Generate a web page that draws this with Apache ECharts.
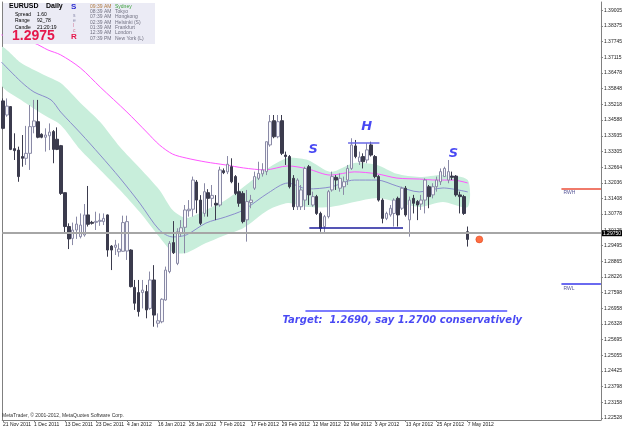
<!DOCTYPE html>
<html><head><meta charset="utf-8">
<script src="https://cdn.jsdelivr.net/npm/echarts@6/dist/echarts.min.js"></script>
<style>html,body{margin:0;padding:0;background:#fff}#c{width:625px;height:429px}</style>
</head><body><div id="c"></div>
<script>
// ---- data ----
const dateLabels = ['21 Nov 2011','1 Dec 2011','13 Dec 2011','23 Dec 2011','4 Jan 2012','16 Jan 2012','26 Jan 2012','7 Feb 2012','17 Feb 2012','29 Feb 2012','12 Mar 2012','22 Mar 2012','3 Apr 2012','13 Apr 2012','25 Apr 2012','7 May 2012'];
const dateLabelIndex = [0,8,16,24,32,40,48,56,64,72,80,88,96,104,112,120];
const priceTicks = [1.39005,1.38375,1.37745,1.37115,1.36478,1.35848,1.35218,1.34588,1.33935,1.33305,1.32664,1.32036,1.31408,1.30778,1.30125,1.29495,1.28865,1.28226,1.27598,1.26958,1.26328,1.25695,1.25055,1.24425,1.23798,1.23158,1.22528];

const open  = [1.3535,1.3478,1.3512,1.3342,1.3336,1.3310,1.3303,1.3323,1.3431,1.3451,1.3400,1.3388,1.3394,1.3411,1.3380,1.3354,1.3164,1.3027,1.2979,1.3013,1.2986,1.2993,1.3074,1.3044,1.3044,1.3048,1.3047,1.3074,1.2948,1.2943,1.2925,1.2927,1.2928,1.2932,1.2781,1.2760,1.2760,1.2764,1.2696,1.2811,1.2636,1.2642,1.2730,1.2845,1.2962,1.2878,1.3002,1.3024,1.3091,1.3097,1.3207,1.3134,1.3080,1.3164,1.3141,1.3121,1.3114,1.3253,1.3248,1.3269,1.3229,1.3168,1.3161,1.3054,1.3124,1.3182,1.3222,1.3240,1.3249,1.3357,1.3455,1.3390,1.3455,1.3316,1.3310,1.3222,1.3107,1.3107,1.3134,1.3269,1.3114,1.3148,1.3080,1.3027,1.3067,1.3175,1.3226,1.3182,1.3188,1.3215,1.3262,1.3353,1.3289,1.3310,1.3296,1.3357,1.3310,1.3229,1.3134,1.3060,1.3074,1.3080,1.3141,1.3101,1.3182,1.3054,1.3141,1.3128,1.3118,1.3134,1.3188,1.3155,1.3188,1.3208,1.3229,1.3215,1.3231,1.3231,1.3155,1.3148,1.3006];
const high  = [1.3545,1.3545,1.3514,1.3404,1.3350,1.3397,1.3434,1.3518,1.3539,1.3539,1.3404,1.3424,1.3444,1.3417,1.3428,1.3357,1.3164,1.3040,1.3043,1.3067,1.3080,1.3118,1.3191,1.3050,1.3087,1.3080,1.3080,1.3076,1.2952,1.2973,1.2959,1.3071,1.3071,1.2935,1.2811,1.2811,1.2811,1.2791,1.2845,1.2871,1.2676,1.2737,1.2865,1.2968,1.3049,1.3020,1.3053,1.3114,1.3134,1.3229,1.3215,1.3154,1.3202,1.3178,1.3195,1.3154,1.3269,1.3262,1.3312,1.3303,1.3235,1.3204,1.3170,1.3175,1.3155,1.3249,1.3289,1.3283,1.3370,1.3478,1.3478,1.3478,1.3478,1.3330,1.3316,1.3235,1.3222,1.3195,1.3269,1.3276,1.3168,1.3155,1.3087,1.3074,1.3175,1.3249,1.3235,1.3242,1.3229,1.3276,1.3384,1.3377,1.3330,1.3323,1.3364,1.3370,1.3316,1.3235,1.3141,1.3087,1.3114,1.3141,1.3148,1.3188,1.3191,1.3148,1.3155,1.3134,1.3155,1.3222,1.3195,1.3202,1.3229,1.3262,1.3269,1.3296,1.3249,1.3235,1.3168,1.3155,1.3027];
const low   = [1.3420,1.3471,1.3336,1.3296,1.3208,1.3269,1.3276,1.3256,1.3404,1.3384,1.3384,1.3330,1.3336,1.3283,1.3336,1.3155,1.3002,1.2936,1.2952,1.2977,1.2979,1.2986,1.3027,1.3035,1.3013,1.3030,1.3033,1.2905,1.2851,1.2912,1.2905,1.2925,1.2892,1.2781,1.2690,1.2663,1.2696,1.2656,1.2690,1.2622,1.2619,1.2636,1.2727,1.2838,1.2916,1.2871,1.2986,1.2919,1.3067,1.3067,1.3081,1.3033,1.3067,1.3067,1.3107,1.3053,1.3107,1.3239,1.3239,1.3202,1.3154,1.3107,1.3040,1.2966,1.3101,1.3175,1.3215,1.3229,1.3235,1.3350,1.3384,1.3384,1.3316,1.3276,1.3181,1.3094,1.3094,1.3094,1.3094,1.3114,1.3107,1.3074,1.3006,1.2999,1.3060,1.3168,1.3175,1.3168,1.3155,1.3195,1.3256,1.3303,1.3276,1.3262,1.3283,1.3310,1.3222,1.3128,1.3040,1.3053,1.3067,1.3027,1.3027,1.3094,1.3067,1.2986,1.3080,1.3053,1.3094,1.3080,1.3101,1.3141,1.3168,1.3195,1.3229,1.3202,1.3215,1.3148,1.3080,1.3074,1.2946];
const close = [1.3424,1.3514,1.3339,1.3334,1.3229,1.3303,1.3323,1.3431,1.3454,1.3388,1.3388,1.3397,1.3409,1.3339,1.3339,1.3161,1.3027,1.2977,1.3013,1.3037,1.3033,1.3074,1.3036,1.3040,1.3048,1.3052,1.3060,1.2932,1.2932,1.2952,1.2936,1.3043,1.3047,1.2784,1.2717,1.2683,1.2770,1.2690,1.2811,1.2669,1.2646,1.2733,1.2851,1.2959,1.2921,1.3006,1.3022,1.3094,1.3097,1.3215,1.3134,1.3040,1.3168,1.3141,1.3153,1.3114,1.3256,1.3245,1.3279,1.3208,1.3161,1.3121,1.3047,1.3128,1.3134,1.3229,1.3242,1.3256,1.3370,1.3451,1.3390,1.3451,1.3323,1.3310,1.3188,1.3107,1.3215,1.3175,1.3262,1.3155,1.3148,1.3080,1.3020,1.3067,1.3168,1.3229,1.3215,1.3222,1.3208,1.3262,1.3357,1.3310,1.3308,1.3289,1.3337,1.3316,1.3229,1.3134,1.3060,1.3080,1.3101,1.3134,1.3074,1.3182,1.3074,1.3134,1.3121,1.3114,1.3134,1.3215,1.3148,1.3188,1.3215,1.3249,1.3262,1.3249,1.3226,1.3155,1.3148,1.3080,1.2975];

// indicator samples: [bar index, price]
const maSlow = [[-0.4,1.3802],[8,1.3769],[11.6,1.3741],[14.9,1.3721],[20,1.3668],[25.1,1.3591],[32,1.3490],[37.1,1.3409],[40.4,1.3357],[43.8,1.3320],[47.3,1.3304],[52.4,1.3288],[57.5,1.3276],[62.1,1.3264],[67.7,1.3256],[73.6,1.3272],[78.7,1.3260],[84.6,1.3235],[90.7,1.3248],[96.6,1.3240],[101.7,1.3223],[107.5,1.3219],[111.9,1.3215],[116.2,1.3215],[120,1.3203]];
const maFast = [[-0.4,1.3692],[4.7,1.3612],[8,1.3571],[12.4,1.3539],[14.9,1.3490],[20,1.3405],[25.1,1.3316],[30.2,1.3223],[35.3,1.3122],[40.4,1.3013],[43.8,1.2985],[47.3,1.2993],[52.4,1.3041],[57.5,1.3066],[62.1,1.3094],[68.5,1.3163],[73.6,1.3203],[78.7,1.3179],[84.6,1.3187],[90.7,1.3215],[96.6,1.3215],[101.7,1.3191],[107.5,1.3167],[113.6,1.3183],[120,1.3167]];
const bandIdx   = [-0.4,4.7,10.6,14.9,20,25.1,30.2,35.3,40.4,43.8,47.3,52.4,57.5,62.1,68.5,73.6,78.7,84.6,90.7,96.6,101.7,107.5,113.6,120];
const bandUpper = [1.3753,1.3688,1.3640,1.3607,1.3527,1.3450,1.3349,1.3264,1.3175,1.3094,1.3062,1.3094,1.3134,1.3187,1.3264,1.3304,1.3296,1.3248,1.3284,1.3276,1.3240,1.3227,1.3235,1.3215];
const bandLower = [1.3599,1.3539,1.3478,1.3438,1.3337,1.3256,1.3175,1.3086,1.2985,1.2924,1.2920,1.2960,1.2993,1.3021,1.3094,1.3122,1.3106,1.3106,1.3126,1.3142,1.3126,1.3106,1.3126,1.3106];

const currentPrice = 1.2975;
const necklineX = [79.1, 103.3], necklinePrice = 1.3024;
const headLineX = [89.1, 97.2], headLinePrice = 1.3366;
const targetLineX = [78.1, 130.2], targetLinePrice = 1.2687;
const rwhPrice = 1.3181, rwlPrice = 1.2796, levelStartX = 144.2;
const markerX = 123;
const patternLabels = [['S',80.1,1.3337],['H',93.9,1.3430],['S',116.3,1.3320]];
const targetText = ['Target:  1.2690, say 1.2700 conservatively', 103.1, 1.2649];

const sessionTimes = ['09:39 AM','08:39 AM','07:39 AM','02:39 AM','01:39 AM','12:39 AM','07:39 PM'];
const sessionCities = ['Sydney','Tokyo','Hongkong','Helsinki (S)','Frankfurt','London','New York (L)'];

// ---- chart ----
const X_MIN = -0.2, X_MAX = 154.4, Y_MIN = 1.22448, Y_MAX = 1.39349;
const FONT = '"Liberation Sans", Arial, sans-serif';
const WIDE = '"DejaVu Sans", Verdana, sans-serif';
const chart = echarts.init(document.getElementById('c'), null, {renderer: 'canvas'});

const candles = open.map((o, i) => [i, o, close[i], low[i], high[i]]);

const graphic = [
  {type:'rect', shape:{x:3,y:3,width:152,height:41}, style:{fill:'#ebebf5'}, z:100},
  {type:'text', x:9, y:3, z:101, style:{text:'EURUSD', font:'bold 7px '+FONT, fill:'#000'}},
  {type:'text', x:46, y:3, z:101, style:{text:'Daily', font:'bold 7px '+FONT, fill:'#000'}},
  {type:'text', x:15, y:12, z:101, style:{text:'Spread', font:'5px '+FONT, fill:'#000'}},
  {type:'text', x:37, y:12, z:101, style:{text:'1.60', font:'5px '+FONT, fill:'#000'}},
  {type:'text', x:15, y:18.5, z:101, style:{text:'Range', font:'5px '+FONT, fill:'#000'}},
  {type:'text', x:37, y:18.5, z:101, style:{text:'92_78', font:'5px '+FONT, fill:'#000'}},
  {type:'text', x:15, y:25, z:101, style:{text:'Candle', font:'5px '+FONT, fill:'#000'}},
  {type:'text', x:37, y:25, z:101, style:{text:'21:20:19', font:'5px '+FONT, fill:'#000'}},
  {type:'text', x:12, y:29, z:101, style:{text:'1.2975', font:'bold 14px '+FONT, fill:'#e5174b'}},
  {type:'text', x:71, y:3, z:101, style:{text:'S', font:'bold 8px '+FONT, fill:'#2b2bd0'}},
  {type:'text', x:73, y:13, z:101, style:{text:'s', font:'5px '+FONT, fill:'#8888aa'}},
  {type:'text', x:73, y:18, z:101, style:{text:'e', font:'5px '+FONT, fill:'#8888aa'}},
  {type:'text', x:73, y:23, z:101, style:{text:'l', font:'5px '+FONT, fill:'#d07090'}},
  {type:'text', x:73, y:28, z:101, style:{text:'c', font:'5px '+FONT, fill:'#d07090'}},
  {type:'text', x:71, y:33, z:101, style:{text:'R', font:'bold 8px '+FONT, fill:'#e5174b'}},
  {type:'text', x:2, y:413, z:101, style:{text:'MetaTrader, \u00a9 2001-2012, MetaQuotes Software Corp.', font:'5px '+FONT, fill:'#333'}}
];
sessionTimes.forEach((t, i) => {
  graphic.push({type:'text', x:90, y:4 + i*5.3, z:101, style:{text:t, font:'5px '+FONT, fill: i === 0 ? '#b07a40' : '#707080'}});
  graphic.push({type:'text', x:115, y:4 + i*5.3, z:101, style:{text:sessionCities[i], font:'5px '+FONT, fill: i === 0 ? '#3aa03a' : '#707080'}});
});

const option = {
  animation: false,
  backgroundColor: '#ffffff',
  grid: {left: 1, right: 18, top: 2, bottom: 9},
  xAxis: {
    type: 'value', min: X_MIN, max: X_MAX,
    splitLine: {show: false},
    axisLine: {show: true, onZero: false, lineStyle: {color: '#808080'}},
    axisTick: {show: true, customValues: dateLabelIndex, length: 2, lineStyle: {color: '#808080'}},
    axisLabel: {customValues: dateLabelIndex, align: 'left', margin: 2, fontSize: 5, color: '#222', fontFamily: FONT,
      formatter: v => dateLabels[dateLabelIndex.indexOf(Math.round(v))] || ''}
  },
  yAxis: [{
    type: 'value', position: 'right', min: Y_MIN, max: Y_MAX, scale: true,
    splitLine: {show: false},
    axisLine: {show: true, onZero: false, lineStyle: {color: '#808080'}},
    axisTick: {show: true, customValues: priceTicks, length: 2, lineStyle: {color: '#808080'}},
    axisLabel: {customValues: priceTicks, margin: 3, fontSize: 5, color: '#222', fontFamily: FONT,
      formatter: v => v.toFixed(5)}
  }, {
    type: 'value', position: 'left', min: Y_MIN, max: Y_MAX, scale: true,
    splitLine: {show: false}, axisTick: {show: false}, axisLabel: {show: false},
    axisLine: {show: true, onZero: false, lineStyle: {color: '#808080'}}
  }],
  graphic: graphic,
  series: [
    {
      type: 'custom', z: 1, clip: true, silent: true,
      data: [[0, currentPrice]],
      renderItem: function (params, api) {
        const up = bandIdx.map((x, i) => api.coord([x, bandUpper[i]]));
        const lo = bandIdx.map((x, i) => api.coord([x, bandLower[i]])).reverse();
        return {type: 'polygon', shape: {points: up.concat(lo), smooth: 0.25}, style: {fill: '#c8eedb'}};
      }
    },
    {type: 'line', z: 2, data: maFast, showSymbol: false, smooth: 0.3, lineStyle: {color: '#8a8ccc', width: 1}, silent: true},
    {type: 'line', z: 2, data: maSlow, showSymbol: false, smooth: 0.3, lineStyle: {color: '#ff55ff', width: 1}, silent: true,
      markLine: {silent: true, symbol: 'none', data: [
        {yAxis: currentPrice, lineStyle: {color: '#a6a6a6', width: 2, type: 'solid'},
         label: {show: true, position: 'end', distance: 1, formatter: () => currentPrice.toFixed(5), backgroundColor: '#000', color: '#fff', fontSize: 5, fontFamily: FONT, padding: [1, 1, 0, 1]}}
      ]}
    },
    {
      type: 'candlestick', z: 4, data: candles, barWidth: 3,
      itemStyle: {color: '#f7f7fb', color0: '#3b3b4d', borderColor: '#8a8aa6', borderColor0: '#3b3b4d', borderWidth: 1}
    },
    {
      type: 'line', z: 5, data: [], silent: true,
      markLine: {silent: true, symbol: 'none', label: {show: false}, data: [
        [{coord: [necklineX[0], necklinePrice], lineStyle: {color: '#1c1c9c', width: 1.5, type: 'solid'}}, {coord: [necklineX[1], necklinePrice]}],
        [{coord: [headLineX[0], headLinePrice], lineStyle: {color: '#6a6ae6', width: 1.5, type: 'solid'}}, {coord: [headLineX[1], headLinePrice]}],
        [{coord: [targetLineX[0], targetLinePrice], lineStyle: {color: '#5050ff', width: 1.5, type: 'solid'}}, {coord: [targetLineX[1], targetLinePrice]}],
        [{coord: [levelStartX, rwhPrice], lineStyle: {color: '#f07a6a', width: 2, type: 'solid'},
          label: {show: true, position: 'insideStartBottom', distance: [2, 2], formatter: 'RWH', fontSize: 5, color: '#5a5a9a', fontFamily: FONT}}, {coord: [X_MAX, rwhPrice]}],
        [{coord: [levelStartX, rwlPrice], lineStyle: {color: '#6a6af0', width: 2, type: 'solid'},
          label: {show: true, position: 'insideStartBottom', distance: [2, 2], formatter: 'RWL', fontSize: 5, color: '#5a5a9a', fontFamily: FONT}}, {coord: [X_MAX, rwlPrice]}]
      ]}
    },
    {
      type: 'scatter', z: 6, silent: true, symbolSize: 0,
      data: patternLabels.map(p => ({value: [p[1], p[2]], name: p[0]})),
      label: {show: true, position: 'inside', formatter: p => p.name, fontSize: 13, fontWeight: 'bold', fontStyle: 'italic', color: '#1a1af0', fontFamily: WIDE}
    },
    {
      type: 'scatter', z: 6, silent: true, symbolSize: 0,
      data: [{value: [targetText[1], targetText[2]], name: targetText[0]}],
      label: {show: true, position: 'inside', formatter: p => p.name, fontSize: 10, fontWeight: 'bold', fontStyle: 'italic', color: '#1a1af0', fontFamily: WIDE}
    },
    {
      type: 'scatter', z: 7, silent: true, symbol: 'circle', symbolSize: 7,
      data: [[markerX, currentPrice]],
      itemStyle: {color: '#ff4a14', borderColor: '#d03000', borderWidth: 0.5}
    }
  ]
};
chart.setOption(option);
</script>
</body></html>
